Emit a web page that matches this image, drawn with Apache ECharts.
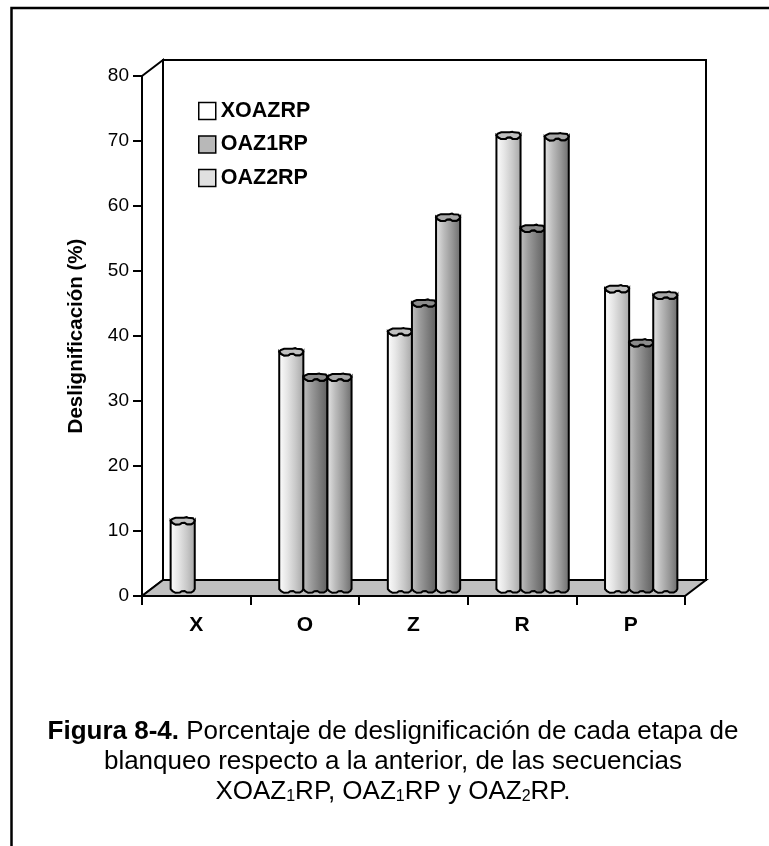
<!DOCTYPE html>
<html><head><meta charset="utf-8">
<style>html,body{margin:0;padding:0;background:#fff}#c{width:769px;height:846px}</style>
<script src="https://cdn.jsdelivr.net/npm/echarts@6/dist/echarts.min.js"></script>
</head><body><div id="c"></div>
<script>
const categories = ['X','O','Z','R','P'];
const seriesNames = ['XOAZRP','OAZ1RP','OAZ2RP'];
const xoazrp = [10.5, 36.5, 39.6, 69.8, 46.2];
const oaz1rp = [null, 32.6, 44.0, 55.5, 37.9];
const oaz2rp = [null, 32.6, 57.2, 69.6, 45.2];
const seriesValues = [xoazrp, oaz1rp, oaz2rp];
const swatchColors = ['#ffffff','#b8b8b8','#e0e0e0'];
const gradients = [
  ['#ffffff','#e6e6e6','#c8c8c8','#a4a4a4'],
  ['#c4c4c4','#9c9c9c','#7c7c7c','#5e5e5e'],
  ['#e8e8e8','#bcbcbc','#969696','#6a6a6a']
];
const capColors = ['#c0c0c0','#8c8c8c','#a8a8a8'];
const DX = 21, DY = -16, BAR_DX = 10.5, BAR_DY = -7, BAR_W = 0.222;
const front = [[0,0],[.08,2.2],[.2,3.8],[.38,3.6],[.46,2.2],[.58,2],[.68,3.6],[.85,3.6],[.95,2],[1,0]];
const back = [[1,0],[.93,-2.6],[.72,-3],[.66,-3.6],[.55,-3],[.32,-3],[.2,-3],[.06,-1.6],[0,0]];

const chart = echarts.init(document.getElementById('c'));
const wave = (x0,w,y,pts) => pts.map(p => [x0+p[0]*w, y+p[1]]);

function renderChrome(params, api){
  const g = params.coordSys, x=g.x, y=g.y, w=g.width, h=g.height;
  const st = {stroke:'#000',lineWidth:2};
  return {type:'group',silent:true,children:[
    {type:'polygon',shape:{points:[[x+DX,y+DY],[x+w+DX,y+DY],[x+w+DX,y+h+DY],[x+DX,y+h+DY]]},style:{fill:'#fff',...st}},
    {type:'polygon',shape:{points:[[x,y],[x+DX,y+DY],[x+DX,y+h+DY],[x,y+h]]},style:{fill:'#fff',...st}},
    {type:'polygon',shape:{points:[[x,y+h],[x+w,y+h],[x+w+DX,y+h+DY],[x+DX,y+h+DY]]},style:{fill:'#c0c0c0',...st}}
  ]};
}
function renderBar(s){
  return function(params, api){
    if (api.value(1) == null || isNaN(api.value(1))) return;
    const idx = api.value(0), val = api.value(1);
    const w = api.size([1,0])[0]*BAR_W;
    const c0 = api.coord([idx,0]), c1 = api.coord([idx,val]);
    const x0 = c0[0]+BAR_DX+(s-1.5)*w, yb = c0[1]+BAR_DY, yt = c1[1]+BAR_DY;
    const frontTop = wave(x0,w,yt,front), backTop = wave(x0,w,yt,back);
    const frontBot = wave(x0,w,yb,front);
    const g = gradients[s];
    const body = frontTop.slice().reverse().concat(frontBot);
    return {type:'group',children:[
      {type:'polygon',shape:{points:body},style:{
        fill:new echarts.graphic.LinearGradient(0,0,1,0,g.map((c,i)=>({offset:i/(g.length-1),color:c}))),
        stroke:'#000',lineWidth:2}},
      {type:'polygon',shape:{points:frontTop.concat(backTop)},style:{fill:capColors[s],stroke:'#000',lineWidth:2}}
    ]};
  };
}
const sub = {fontSize:16,verticalAlign:'bottom',padding:[0,0,2,0],lineHeight:30,fontFamily:'Liberation Sans',color:'#000'};
chart.setOption({
  animation:false,
  backgroundColor:'#fff',
  textStyle:{fontFamily:'Liberation Sans',color:'#000'},
  title:{
    text:'{b|Figura 8-4.} Porcentaje de deslignificación de cada etapa de\nblanqueo respecto a la anterior, de las secuencias\nXOAZ{s|1}RP, OAZ{s|1}RP y OAZ{s|2}RP.',
    left:393, top:717, textAlign:'center', padding:0,
    textStyle:{fontFamily:'Liberation Sans',fontWeight:'normal',fontSize:26,lineHeight:30,color:'#000',
      rich:{b:{fontWeight:'bold',fontSize:26,lineHeight:30,fontFamily:'Liberation Sans',color:'#000'},s:sub}}
  },
  legend:{
    orient:'vertical',left:198,top:100,padding:0,itemWidth:17,itemHeight:17,itemGap:11.5,
    selectedMode:false,
    textStyle:{fontFamily:'Liberation Sans',fontWeight:'bold',fontSize:21.5,lineHeight:17,color:'#000'},
    data:seriesNames.map((n,i)=>({name:n,icon:'rect',itemStyle:{color:swatchColors[i],borderColor:'#000',borderWidth:1.5}}))
  },
  grid:{left:142,right:84,top:76,bottom:250},
  xAxis:{type:'category',data:categories,
    axisLine:{show:false},
    axisTick:{show:true,length:9,inside:false,alignWithLabel:false,lineStyle:{color:'#000',width:2}},
    axisLabel:{margin:19,fontSize:21,fontWeight:'bold',color:'#000',fontFamily:'Liberation Sans'}},
  yAxis:{type:'value',min:0,max:80,interval:10,
    name:'Deslignificación (%)',nameLocation:'middle',nameGap:55,
    nameTextStyle:{fontFamily:'Liberation Sans',fontWeight:'bold',fontSize:20.5,color:'#000'},
    axisLine:{show:false},splitLine:{show:false},
    axisTick:{show:true,length:9,lineStyle:{color:'#000',width:2}},
    axisLabel:{margin:13,fontSize:19,color:'#000',fontFamily:'Liberation Sans'}},
  graphic:[{type:'polyline',silent:true,shape:{points:[[11.5,846],[11.5,8],[769,8]]},style:{stroke:'#000',lineWidth:2.5,fill:null}}],
  series:[
    {type:'custom',name:'__chrome',renderItem:renderChrome,data:[0],silent:true,z:1,encode:{x:0,y:0}},
    ...seriesNames.map((n,s)=>({
      type:'custom',name:n,renderItem:renderBar(s),z:2+s,
      itemStyle:{color:swatchColors[s]},encode:{x:0,y:1},
      data:categories.map((c,i)=>[i,seriesValues[s][i]])
    }))
  ]
});
</script></body></html>
